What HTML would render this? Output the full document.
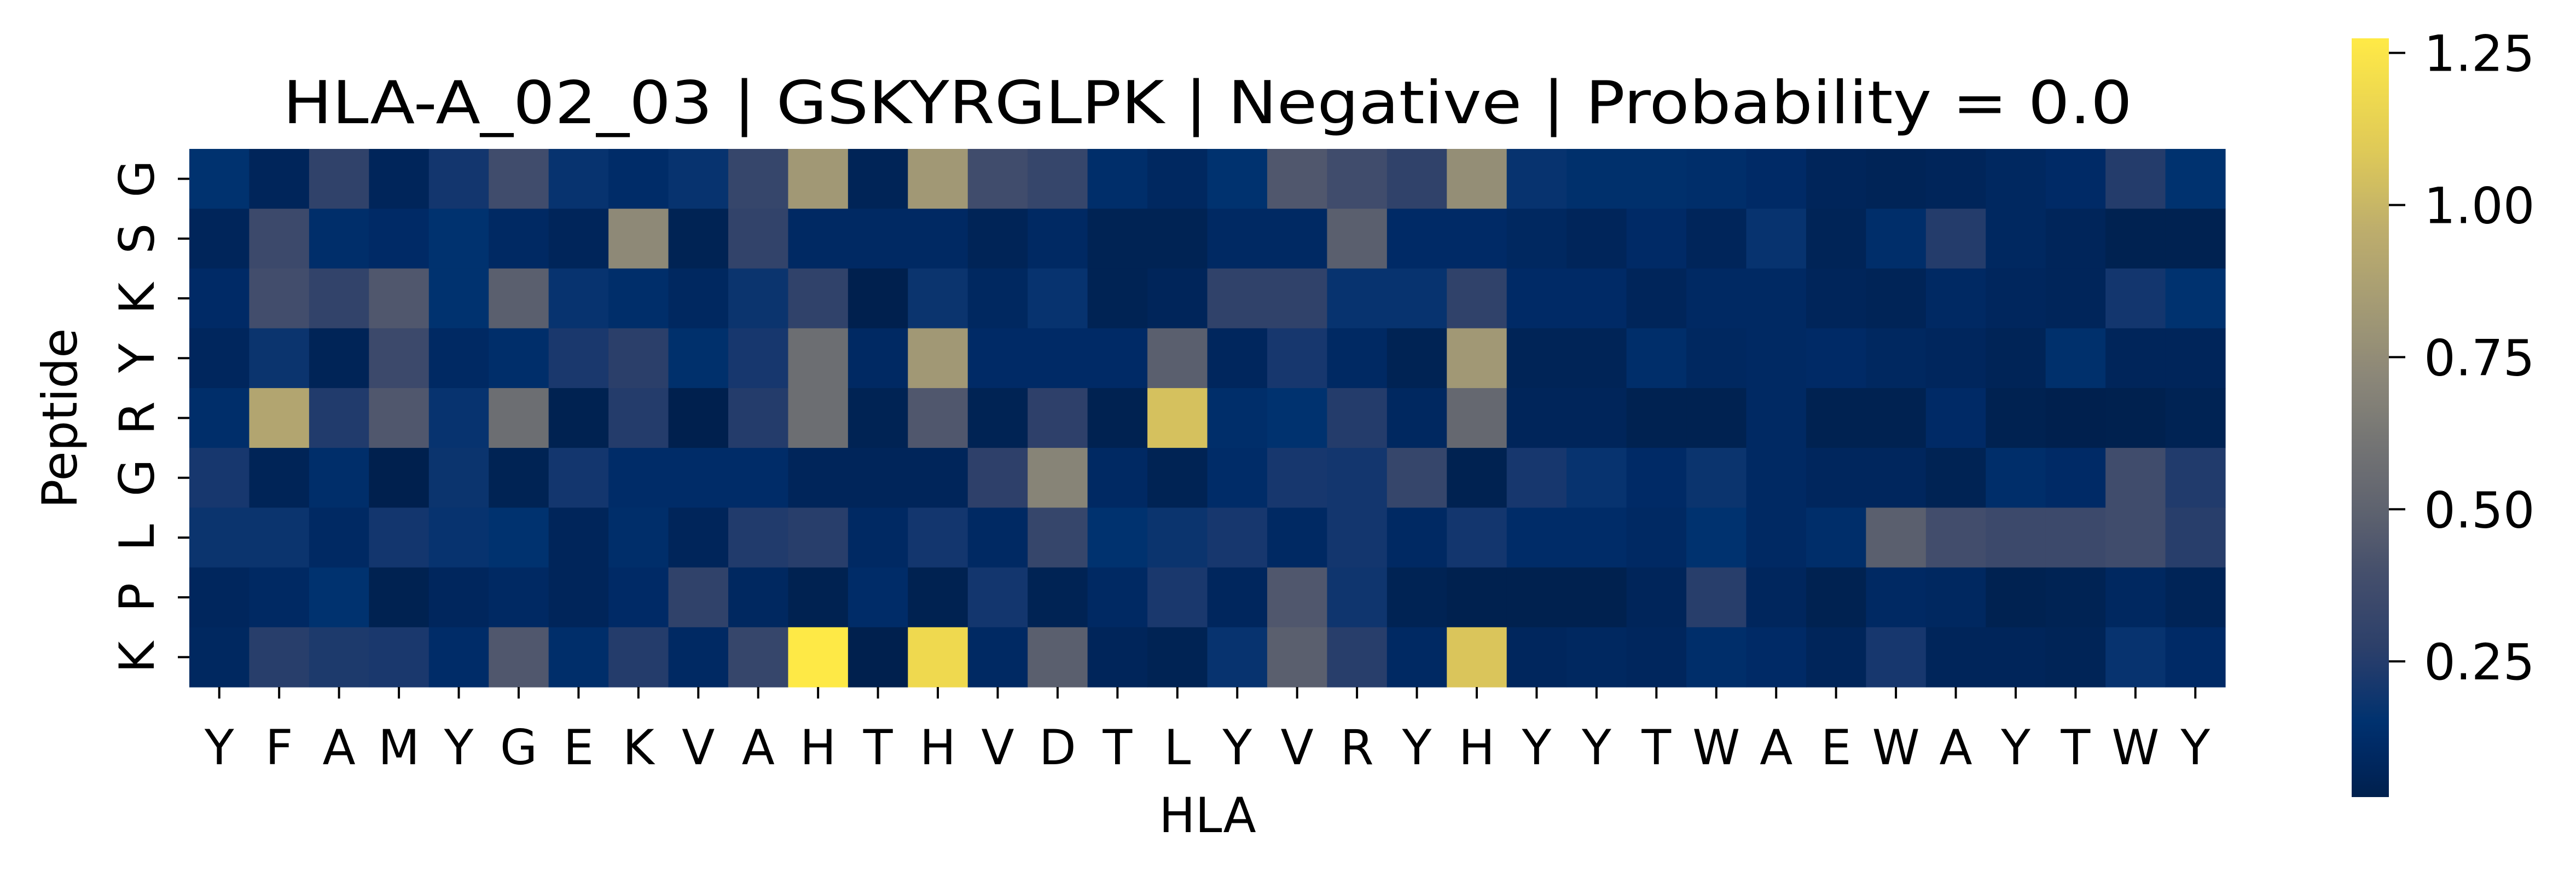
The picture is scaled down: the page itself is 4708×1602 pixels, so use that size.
<!DOCTYPE html>
<html><head><meta charset="utf-8"><style>
html,body{margin:0;padding:0;background:#fff;}
svg{display:block;font-family:"DejaVu Sans","Liberation Sans",sans-serif;}
</style></head><body>
<svg id="chart" width="4708" height="1602" viewBox="0 0 4708 1602" xmlns="http://www.w3.org/2000/svg">
<rect width="4708" height="1602" fill="#fff"/>
<text x="2207" y="225" font-size="108" text-anchor="middle" textLength="3380" lengthAdjust="spacingAndGlyphs">HLA-A_02_03 | GSKYRGLPK | Negative | Probability = 0.0</text>
<g id="cells"></g>
<g id="xticks"></g>
<g id="yticks"></g>
<text x="2207" y="1520" font-size="88" text-anchor="middle">HLA</text>
<text x="0" y="0" font-size="88" text-anchor="middle" transform="translate(140,764) rotate(-90)">Peptide</text>
<defs><linearGradient id="cbgrad" x1="0" y1="1" x2="0" y2="0"></linearGradient></defs>
<rect id="cbar" x="4298" y="70" width="68" height="1386" fill="url(#cbgrad)"/>
<g id="cbticks"></g>
</svg>
<script>
const xLabels = ["Y","F","A","M","Y","G","E","K","V","A","H","T","H","V","D","T","L","Y","V","R","Y","H","Y","Y","T","W","A","E","W","A","Y","T","W","Y"];
const yLabels = ["G","S","K","Y","R","G","L","P","K"];
const row0 = [0.15,0.07,0.29,0.07,0.2,0.37,0.17,0.12,0.17,0.32,0.82,0.06,0.82,0.37,0.32,0.13,0.09,0.15,0.44,0.37,0.29,0.76,0.17,0.14,0.14,0.13,0.11,0.07,0.06,0.07,0.09,0.11,0.25,0.15];
const row1 = [0.07,0.35,0.13,0.11,0.15,0.1,0.07,0.73,0.05,0.3,0.1,0.1,0.1,0.06,0.1,0.05,0.05,0.1,0.1,0.48,0.11,0.11,0.09,0.07,0.11,0.07,0.17,0.06,0.13,0.25,0.09,0.07,0.04,0.04];
const row2 = [0.11,0.38,0.3,0.44,0.15,0.48,0.17,0.13,0.09,0.18,0.29,0.03,0.18,0.09,0.17,0.05,0.07,0.29,0.29,0.17,0.17,0.29,0.11,0.11,0.07,0.1,0.1,0.07,0.06,0.1,0.08,0.07,0.2,0.15];
const row3 = [0.08,0.18,0.06,0.35,0.1,0.13,0.22,0.27,0.14,0.21,0.57,0.1,0.82,0.11,0.11,0.11,0.48,0.08,0.21,0.1,0.05,0.82,0.06,0.06,0.13,0.09,0.1,0.11,0.09,0.08,0.06,0.14,0.07,0.07];
const row4 = [0.13,0.9,0.24,0.44,0.17,0.57,0.04,0.25,0.03,0.25,0.57,0.05,0.44,0.05,0.28,0.04,1.05,0.13,0.15,0.25,0.09,0.53,0.07,0.07,0.04,0.04,0.1,0.04,0.04,0.11,0.04,0.03,0.035,0.05];
const row5 = [0.21,0.06,0.13,0.03,0.18,0.05,0.2,0.12,0.12,0.12,0.07,0.07,0.07,0.28,0.7,0.1,0.05,0.12,0.21,0.2,0.32,0.04,0.21,0.17,0.11,0.18,0.1,0.08,0.08,0.05,0.13,0.11,0.37,0.24];
const row6 = [0.18,0.18,0.1,0.2,0.17,0.15,0.07,0.13,0.07,0.24,0.26,0.1,0.2,0.1,0.32,0.15,0.18,0.21,0.1,0.2,0.1,0.2,0.12,0.12,0.1,0.15,0.1,0.13,0.48,0.38,0.35,0.35,0.37,0.26];
const row7 = [0.08,0.1,0.15,0.04,0.08,0.1,0.07,0.11,0.29,0.09,0.04,0.12,0.04,0.2,0.05,0.1,0.22,0.08,0.44,0.19,0.05,0.035,0.035,0.035,0.07,0.26,0.08,0.04,0.1,0.09,0.04,0.05,0.09,0.06];
const row8 = [0.09,0.26,0.23,0.22,0.12,0.44,0.13,0.25,0.1,0.32,1.27,0.03,1.18,0.1,0.48,0.07,0.05,0.17,0.48,0.26,0.1,1.07,0.08,0.09,0.08,0.13,0.11,0.07,0.21,0.07,0.07,0.06,0.17,0.11];
const cbTickValues = [0.25,0.5,0.75,1.0,1.25];
const cbTickLabels = ["0.25","0.50","0.75","1.00","1.25"];
const vmin = 0.027, vmax = 1.274;

const rows = [row0,row1,row2,row3,row4,row5,row6,row7,row8];
const NS = "http://www.w3.org/2000/svg";
const X0 = 346, X1 = 4067, Y0 = 272, Y1 = 1255;
const cw = (X1 - X0) / xLabels.length, ch = (Y1 - Y0) / yLabels.length;
const xScale = i => X0 + i * cw;
const yScale = j => Y0 + j * ch;
const CB_TOP = 70, CB_BOT = 1456;
const cbScale = v => CB_BOT - (v - vmin) / (vmax - vmin) * (CB_BOT - CB_TOP);

const stops = [[0,[0,32,77]],[0.06,[0,41,100]],[0.1,[0,50,111]],[0.14,[20,54,110]],[0.2,[45,64,106]],[0.3,[70,80,108]],[0.38,[95,99,111]],[0.45,[112,113,115]],[0.55,[138,134,120]],[0.65,[165,155,116]],[0.75,[190,174,108]],[0.85,[222,201,88]],[0.93,[240,218,78]],[1,[255,234,70]]];
function cividis(t){
  t = Math.max(0, Math.min(1, t));
  for (let k = 1; k < stops.length; k++) {
    if (t <= stops[k][0]) {
      const a = stops[k-1], b = stops[k], f = (t - a[0]) / (b[0] - a[0]);
      const c = a[1].map((v, i) => Math.round(v + (b[1][i] - v) * f));
      return "rgb(" + c.join(",") + ")";
    }
  }
  return "rgb(255,234,70)";
}
function mk(tag, attrs, parent){ const e = document.createElementNS(NS, tag); for (const k in attrs) e.setAttribute(k, attrs[k]); parent.appendChild(e); return e; }

const gc = document.getElementById("cells");
rows.forEach((r, j) => r.forEach((v, i) => {
  const rc = mk("rect", {x: xScale(i), y: yScale(j), width: cw + 0.6, height: ch + 0.6, fill: cividis((v - vmin) / (vmax - vmin))}, gc);
  
  
}));

const gx = document.getElementById("xticks");
xLabels.forEach((l, i) => {
  const cx = xScale(i) + cw / 2;
  const tk = mk("line", {x1: cx, x2: cx, y1: Y1, y2: Y1 + 21, stroke: "#000", "stroke-width": 4}, gx);
  
  
  const t = mk("text", {x: cx, y: 1396, "font-size": 88, "text-anchor": "middle"}, gx);
  t.textContent = l;
  
  
});
const gy = document.getElementById("yticks");
yLabels.forEach((l, j) => {
  const cy = yScale(j) + ch / 2;
  const tk = mk("line", {x1: X0 - 21, x2: X0, y1: cy, y2: cy, stroke: "#000", "stroke-width": 4}, gy);
  
  
  const t = mk("text", {x: 0, y: 0, "font-size": 88, "text-anchor": "middle", transform: "translate(281," + cy + ") rotate(-90)"}, gy);
  t.textContent = l;
  
  
});

const grad = document.getElementById("cbgrad");
for (let k = 0; k <= 40; k++) { mk("stop", {offset: (k / 40), "stop-color": cividis(k / 40)}, grad); }
const gcb = document.getElementById("cbticks");
cbTickValues.forEach((v, i) => {
  const y = cbScale(v);
  const tk = mk("line", {x1: 4366, x2: 4396, y1: y, y2: y, stroke: "#000", "stroke-width": 4}, gcb);
  
  
  const t = mk("text", {x: 4430, y: y + 33, "font-size": 91}, gcb);
  t.textContent = cbTickLabels[i];
  
  
});
</script>
</body></html>
